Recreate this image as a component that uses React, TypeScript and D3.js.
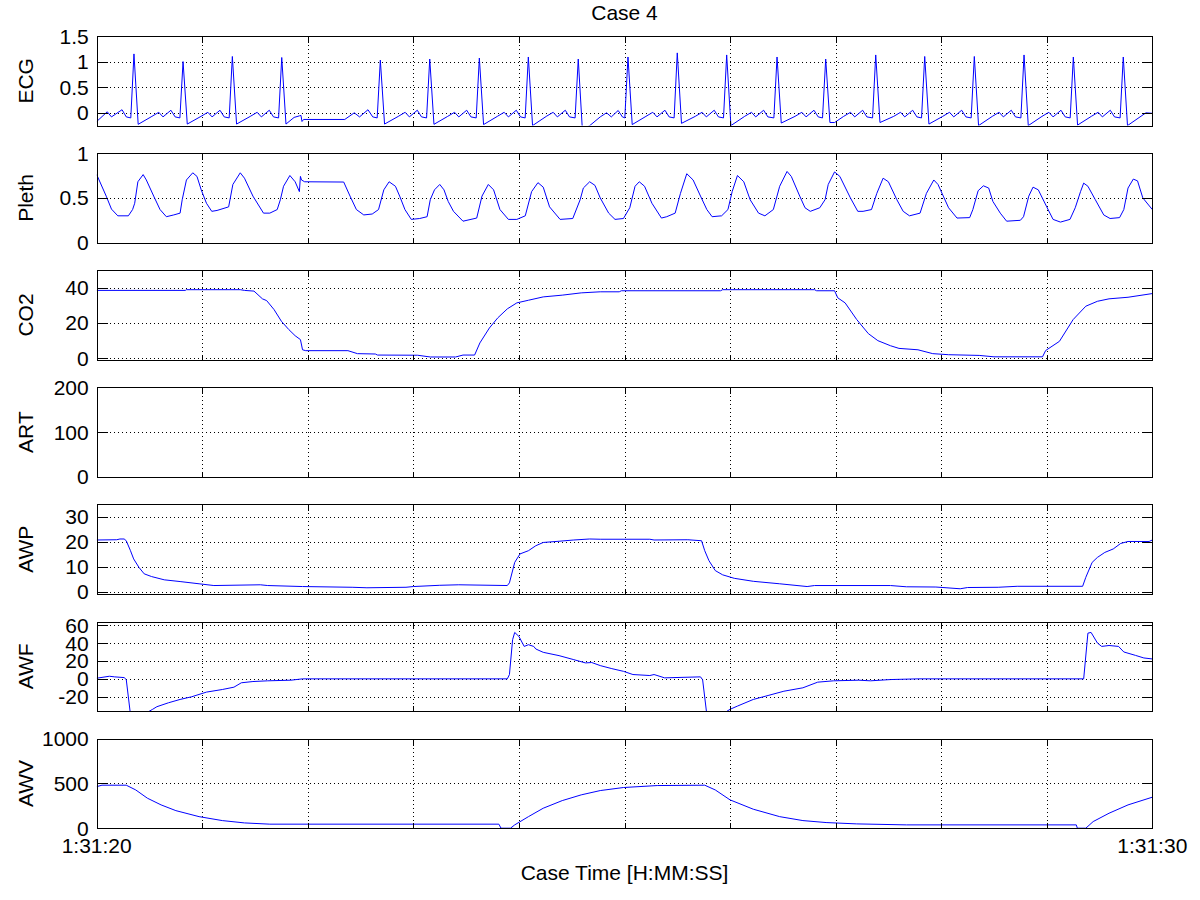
import React, { useRef, useEffect } from "react"
import * as d3 from "d3"

type Pt = [number, number]

const title = "Case 4"
const xLabel = "Case Time [H:MM:SS]"
const xDomain: [number, number] = [0, 10]
const xTickLabels = ["1:31:20", "1:31:30"]
const channelNames = ["ECG", "Pleth", "CO2", "ART", "AWP", "AWF", "AWV"]
const yDomains: [number, number][] = [
  [-0.25, 1.5],
  [0, 1],
  [-1, 50],
  [0, 200],
  [-1, 35],
  [-36, 64],
  [0, 1000],
]
const yTicks = [
  [0, 0.5, 1, 1.5],
  [0, 0.5, 1],
  [0, 20, 40],
  [0, 100, 200],
  [0, 10, 20, 30],
  [-20, 0, 20, 40, 60],
  [0, 500, 1000],
]

// seconds from 1:31:20
const ecg: Pt[] = [
  [0, -0.17], [0.1, 0.02], [0.14, -0.08], [0.24, 0.06], [0.28, -0.08], [0.323, -0.1],
  [0.353, 1.15], [0.393, -0.225], [0.523, -0.07], [0.588, 0.01], [0.628, -0.08], [0.703, 0.05], [0.743, -0.08], [0.788, -0.1],
  [0.818, 1.0], [0.858, -0.22], [0.988, -0.07], [1.053, 0.01], [1.093, -0.08], [1.168, 0.05], [1.208, -0.08], [1.255, -0.1],
  [1.285, 1.1], [1.325, -0.22], [1.455, -0.07], [1.52, 0.01], [1.56, -0.08], [1.635, 0.05], [1.675, -0.08], [1.723, -0.1],
  [1.753, 1.08], [1.793, -0.22], [1.87, -0.09], [1.92, -0.06], [1.935, -0.05], [1.945, -0.17], [1.96, -0.13], [2.35, -0.13],
  [2.44, 0.0], [2.49, -0.08], [2.57, 0.06], [2.615, -0.08], [2.657, -0.1],
  [2.687, 1.03], [2.727, -0.22], [2.857, -0.07], [2.922, 0.01], [2.962, -0.08], [3.037, 0.05], [3.077, -0.08], [3.125, -0.1],
  [3.155, 1.05], [3.195, -0.225], [3.325, -0.07], [3.39, 0.01], [3.43, -0.08], [3.505, 0.05], [3.545, -0.08], [3.595, -0.1],
  [3.625, 1.07], [3.665, -0.23], [3.795, -0.07], [3.86, 0.01], [3.9, -0.08], [3.975, 0.05], [4.015, -0.08], [4.059, -0.1],
  [4.089, 1.09], [4.129, -0.25], [4.259, -0.07], [4.324, 0.01], [4.364, -0.08], [4.439, 0.05], [4.479, -0.08], [4.532, -0.1],
  [4.562, 1.05], [4.6, -0.3], [4.665, -0.26], [4.77, -0.08], [4.83, 0.0], [4.875, -0.08], [4.94, 0.045], [4.98, -0.08], [5.003, -0.1],
  [5.033, 1.09], [5.073, -0.23], [5.203, -0.07], [5.268, 0.01], [5.308, -0.08], [5.383, 0.05], [5.423, -0.08], [5.47, -0.1],
  [5.5, 1.17], [5.54, -0.206], [5.67, -0.07], [5.735, 0.01], [5.775, -0.08], [5.85, 0.05], [5.89, -0.08], [5.938, -0.1],
  [5.968, 1.13], [6.008, -0.25], [6.138, -0.07], [6.203, 0.01], [6.243, -0.08], [6.318, 0.05], [6.358, -0.08], [6.415, -0.1],
  [6.445, 1.09], [6.485, -0.2], [6.615, -0.07], [6.68, 0.01], [6.72, -0.08], [6.795, 0.05], [6.835, -0.08], [6.876, -0.1],
  [6.906, 1.05], [6.946, -0.19], [6.99, -0.19], [7.076, -0.07], [7.141, 0.01], [7.181, -0.08], [7.256, 0.05], [7.296, -0.08], [7.35, -0.1],
  [7.38, 1.13], [7.42, -0.19], [7.55, -0.07], [7.615, 0.01], [7.655, -0.08], [7.73, 0.05], [7.77, -0.08], [7.814, -0.1],
  [7.844, 1.1], [7.884, -0.22], [8.014, -0.07], [8.079, 0.01], [8.119, -0.08], [8.194, 0.05], [8.234, -0.08], [8.284, -0.1],
  [8.314, 1.1], [8.354, -0.25], [8.484, -0.07], [8.549, 0.01], [8.589, -0.08], [8.664, 0.05], [8.704, -0.08], [8.755, -0.1],
  [8.785, 1.13], [8.825, -0.25], [8.955, -0.07], [9.02, 0.01], [9.06, -0.08], [9.135, 0.05], [9.175, -0.08], [9.222, -0.1],
  [9.252, 1.09], [9.292, -0.24], [9.422, -0.07], [9.487, 0.01], [9.527, -0.08], [9.602, 0.05], [9.642, -0.08], [9.695, -0.1],
  [9.725, 1.09], [9.765, -0.25], [9.94, 0.0], [10.0, -0.01],
]

const pleth: Pt[] = [
  [0, 0.76], [0.09, 0.52], [0.14, 0.375], [0.2, 0.3], [0.3, 0.3], [0.34, 0.37], [0.36, 0.44], [0.39, 0.68],
  [0.44, 0.76], [0.47, 0.7], [0.54, 0.52], [0.6, 0.37], [0.66, 0.29], [0.73, 0.31], [0.79, 0.33], [0.81, 0.48],
  [0.85, 0.7], [0.91, 0.78], [0.95, 0.74], [0.99, 0.59], [1.04, 0.44], [1.09, 0.35], [1.14, 0.36], [1.25, 0.4],
  [1.29, 0.65], [1.36, 0.78], [1.4, 0.72], [1.48, 0.52], [1.58, 0.33], [1.64, 0.33], [1.71, 0.37], [1.74, 0.48],
  [1.77, 0.63], [1.83, 0.75], [1.88, 0.68], [1.92, 0.57], [1.93, 0.74], [1.94, 0.7], [1.97, 0.68], [2.34, 0.677],
  [2.4, 0.52], [2.46, 0.37], [2.53, 0.31], [2.61, 0.32], [2.67, 0.37], [2.72, 0.59], [2.77, 0.68], [2.83, 0.63],
  [2.87, 0.52], [2.92, 0.37], [2.98, 0.26], [3.06, 0.27], [3.13, 0.29], [3.16, 0.48], [3.2, 0.59], [3.25, 0.65],
  [3.29, 0.59], [3.33, 0.46], [3.38, 0.35], [3.47, 0.24], [3.6, 0.275], [3.65, 0.52], [3.71, 0.65], [3.76, 0.59],
  [3.82, 0.37], [3.9, 0.26], [3.98, 0.26], [4.06, 0.3], [4.12, 0.57], [4.18, 0.67], [4.23, 0.62], [4.29, 0.4],
  [4.39, 0.26], [4.51, 0.27], [4.58, 0.48], [4.61, 0.61], [4.67, 0.68], [4.72, 0.64], [4.77, 0.5], [4.85, 0.33],
  [4.91, 0.26], [4.99, 0.27], [5.05, 0.39], [5.1, 0.63], [5.14, 0.68], [5.19, 0.63], [5.26, 0.44], [5.35, 0.275],
  [5.4, 0.29], [5.48, 0.33], [5.53, 0.55], [5.59, 0.77], [5.65, 0.7], [5.72, 0.52], [5.78, 0.37], [5.83, 0.29],
  [5.92, 0.3], [5.98, 0.37], [6.02, 0.57], [6.07, 0.75], [6.13, 0.68], [6.19, 0.48], [6.27, 0.33], [6.33, 0.3],
  [6.41, 0.37], [6.47, 0.63], [6.54, 0.795], [6.58, 0.74], [6.66, 0.52], [6.71, 0.39], [6.76, 0.35], [6.85, 0.39],
  [6.9, 0.48], [6.93, 0.65], [6.99, 0.79], [7.04, 0.74], [7.14, 0.5], [7.21, 0.35], [7.26, 0.35], [7.34, 0.37],
  [7.39, 0.55], [7.45, 0.72], [7.5, 0.68], [7.58, 0.48], [7.64, 0.35], [7.7, 0.3], [7.8, 0.33], [7.86, 0.55],
  [7.93, 0.7], [7.97, 0.65], [8.02, 0.52], [8.07, 0.39], [8.15, 0.275], [8.27, 0.28], [8.3, 0.37], [8.35, 0.58],
  [8.4, 0.635], [8.45, 0.61], [8.49, 0.46], [8.56, 0.33], [8.62, 0.24], [8.75, 0.25], [8.78, 0.29], [8.83, 0.52],
  [8.87, 0.62], [8.92, 0.59], [9.0, 0.4], [9.06, 0.26], [9.13, 0.23], [9.22, 0.26], [9.27, 0.39], [9.32, 0.57],
  [9.35, 0.665], [9.39, 0.63], [9.46, 0.48], [9.54, 0.31], [9.6, 0.27], [9.69, 0.28], [9.73, 0.37], [9.77, 0.61],
  [9.82, 0.71], [9.86, 0.69], [9.91, 0.5], [10.0, 0.37],
]

const co2: Pt[] = [
  [0, 38.5], [0.84, 38.5], [0.85, 38.9], [1.36, 38.9], [1.4, 38.5], [1.49, 38.1], [1.57, 33.7], [1.61, 32.7],
  [1.68, 27.6], [1.75, 20.9], [1.82, 16.2], [1.88, 12.7], [1.93, 10.5], [1.95, 4.7], [1.98, 4.2], [2.38, 4.2],
  [2.47, 2.5], [2.64, 2.3], [2.66, 1.7], [3.04, 1.6], [3.16, 0.6], [3.4, 0.6], [3.47, 1.7], [3.58, 1.7],
  [3.63, 8.6], [3.72, 17.1], [3.8, 22.9], [3.89, 28], [3.98, 31.4], [4.09, 32.9], [4.23, 34.8], [4.41, 35.8],
  [4.59, 37.1], [4.77, 37.7], [4.95, 37.7], [4.97, 38.3], [5.91, 38.3], [5.93, 38.9], [6.8, 38.9], [6.82, 38.3],
  [6.99, 38.3], [7.02, 34.3], [7.09, 31.4], [7.2, 21.9], [7.31, 13.9], [7.4, 9.9], [7.52, 7.0], [7.6, 5.5],
  [7.78, 4.7], [7.92, 2.5], [8.07, 1.9], [8.36, 1.5], [8.5, 0.7], [8.96, 0.7], [8.99, 4.3], [9.12, 9.5],
  [9.25, 21.9], [9.37, 29.5], [9.48, 32.3], [9.59, 33.7], [9.77, 34.6], [10.0, 36.7],
]

const art: Pt[] = []

const awp: Pt[] = [
  [0, 20.7], [0.19, 20.8], [0.22, 21.1], [0.26, 21.1], [0.28, 20.4], [0.32, 16.4], [0.35, 13.1], [0.4, 9.7],
  [0.45, 7.1], [0.52, 6.0], [0.64, 4.7], [0.79, 4.0], [0.97, 3.1], [1.11, 2.4], [1.55, 2.7], [1.62, 2.4],
  [1.95, 2.0], [2.42, 1.7], [2.56, 1.5], [2.93, 1.7], [3.0, 2.0], [3.25, 2.5], [3.43, 2.7], [3.89, 2.4],
  [3.91, 3.5], [3.96, 11.7], [4.01, 15.1], [4.09, 16.4], [4.16, 18.4], [4.23, 19.7], [4.38, 20.2], [4.52, 20.7],
  [4.67, 21.1], [4.77, 21.0], [5.24, 21.0], [5.28, 20.7], [5.6, 20.8], [5.73, 20.4], [5.76, 16.4], [5.8, 12.4],
  [5.86, 8.4], [5.93, 6.7], [6.04, 5.3], [6.22, 4.1], [6.47, 3.1], [6.73, 2.0], [6.8, 2.4], [7.52, 2.4],
  [7.67, 1.9], [7.95, 1.8], [8.18, 1.1], [8.25, 1.6], [8.54, 1.7], [8.72, 2.1], [9.34, 2.1], [9.37, 5.7],
  [9.43, 11.7], [9.48, 13.7], [9.55, 15.7], [9.63, 17.1], [9.7, 19.3], [9.77, 20.1], [9.97, 20.1], [10.0, 20.7],
]

const awf: Pt[] = [
  [0, 0.7], [0.12, 2.9], [0.17, 2.2], [0.26, 1.4], [0.28, -0.8], [0.32, -40], [0.41, -42], [0.53, -34],
  [0.57, -31.1], [0.68, -26.7], [0.79, -23], [0.9, -20], [1.04, -14.8], [1.19, -11.9], [1.3, -9.3], [1.37, -4.4],
  [1.48, -3.0], [1.62, -2.2], [1.84, -1.5], [1.95, 0], [3.89, 0], [3.91, 4.8], [3.94, 43.7], [3.96, 51.8],
  [4.0, 47.3], [4.05, 36.2], [4.09, 38.1], [4.14, 36.2], [4.16, 33.3], [4.23, 29.6], [4.38, 25.9], [4.52, 21.4],
  [4.63, 17.8], [4.69, 18.2], [4.77, 14.8], [4.88, 11.4], [4.99, 8.4], [5.08, 4.8], [5.24, 3.7], [5.28, 4.8],
  [5.38, 1.1], [5.72, 2.2], [5.74, -1], [5.78, -40], [5.89, -42], [6.0, -34], [6.07, -30.4], [6.22, -23],
  [6.36, -18.6], [6.51, -13.8], [6.69, -10], [6.83, -3.7], [6.98, -2.2], [7.22, -1.5], [7.33, -2.2], [7.52, -0.8],
  [7.78, 0], [9.35, 0], [9.39, 51], [9.42, 51.8], [9.48, 40], [9.52, 36.2], [9.59, 37.2], [9.68, 36.2],
  [9.73, 30], [9.84, 26.2], [9.92, 23.3], [10.0, 22.2],
]

const awv: Pt[] = [
  [0, 464], [0.05, 480], [0.28, 480], [0.37, 427], [0.48, 335], [0.61, 260], [0.75, 196], [0.97, 129],
  [1.19, 85], [1.4, 59], [1.64, 45], [3.81, 45], [3.83, 0], [3.92, 0], [3.96, 37], [4.09, 129],
  [4.23, 223], [4.41, 308], [4.59, 372], [4.77, 420], [4.99, 454], [5.31, 476], [5.76, 480], [5.86, 427],
  [6.0, 316], [6.22, 212], [6.47, 129], [6.69, 85], [6.91, 63], [7.2, 48], [7.67, 37], [9.28, 37],
  [9.29, 0], [9.37, 0], [9.44, 74], [9.59, 167], [9.77, 260], [10.0, 346],
]

const channels = [ecg, pleth, co2, art, awp, awf, awv]

export default function App() {
  const svgRef = useRef<SVGSVGElement>(null)

  useEffect(() => {
    if (!svgRef.current) return
    const svg = d3.select(svgRef.current)
    svg.selectAll("*").remove()

    const width = 1200
    const height = 900
    const left = 96.7
    const right = 1152.3
    const top0 = 36
    const step = 117.1
    const ph = 89.6
    const font = "'Liberation Sans', Arial, sans-serif"
    const fs = 21
    const snap = (v: number) => Math.round(v) + 0.5

    svg.append("rect").attr("width", width).attr("height", height).attr("fill", "#fff")

    const x = d3.scaleLinear().domain(xDomain).range([left, right])
    const secs = d3.range(xDomain[0], xDomain[1] + 1, 1)

    channels.forEach((data, i) => {
      const y0 = top0 + i * step
      const y = d3.scaleLinear().domain(yDomains[i]).range([y0 + ph, y0])
      const g = svg.append("g")
      const bx0 = snap(left)
      const bx1 = snap(right)
      const by0 = snap(y0)
      const by1 = snap(y0 + ph)

      // dotted grid
      const grid = g.append("g")
        .attr("stroke", "#000")
        .attr("stroke-width", 1)
        .attr("stroke-dasharray", "1,3")
        .attr("shape-rendering", "crispEdges")
      secs.slice(1, -1).forEach((s) => {
        grid.append("line")
          .attr("x1", snap(x(s))).attr("x2", snap(x(s)))
          .attr("y1", by0).attr("y2", by1)
      })
      yTicks[i].forEach((v) => {
        grid.append("line")
          .attr("x1", bx0).attr("x2", bx1)
          .attr("y1", snap(y(v))).attr("y2", snap(y(v)))
      })

      // data
      const clipId = `clip-${i}`
      g.append("clipPath").attr("id", clipId)
        .append("rect")
        .attr("x", left).attr("y", y0)
        .attr("width", right - left).attr("height", ph)
      if (data.length) {
        const line = d3.line<Pt>().x((d) => x(d[0])).y((d) => y(d[1]))
        g.append("path")
          .datum(data)
          .attr("clip-path", `url(#${clipId})`)
          .attr("fill", "none")
          .attr("stroke", "#0000ff")
          .attr("stroke-width", 1)
          .attr("d", line)
      }

      // box and ticks
      const ax = g.append("g")
        .attr("stroke", "#000")
        .attr("stroke-width", 1)
        .attr("shape-rendering", "crispEdges")
      ax.append("rect")
        .attr("x", bx0).attr("y", by0)
        .attr("width", bx1 - bx0).attr("height", by1 - by0)
        .attr("fill", "none")
      secs.forEach((s) => {
        const sx = snap(x(s))
        ax.append("line").attr("x1", sx).attr("x2", sx).attr("y1", by1).attr("y2", by1 - 6)
        ax.append("line").attr("x1", sx).attr("x2", sx).attr("y1", by0).attr("y2", by0 + 6)
      })
      yTicks[i].forEach((v) => {
        const sy = snap(y(v))
        ax.append("line").attr("x1", bx0).attr("x2", bx0 + 10.5).attr("y1", sy).attr("y2", sy)
        ax.append("line").attr("x1", bx1).attr("x2", bx1 - 10.5).attr("y1", sy).attr("y2", sy)
      })

      // tick labels
      yTicks[i].forEach((v) => {
        g.append("text")
          .attr("x", left - 8)
          .attr("y", y(v))
          .attr("dy", "0.36em")
          .attr("text-anchor", "end")
          .attr("font-family", font)
          .attr("font-size", fs)
          .text(String(v))
      })

      // channel label
      g.append("text")
        .attr("transform", `translate(33,${y0 + ph / 2}) rotate(-90)`)
        .attr("text-anchor", "middle")
        .attr("font-family", font)
        .attr("font-size", fs)
        .text(channelNames[i])
    })

    const bottom = top0 + 6 * step + ph
    xTickLabels.forEach((lab, k) => {
      svg.append("text")
        .attr("x", x(xDomain[k]))
        .attr("y", bottom + 25)
        .attr("text-anchor", "middle")
        .attr("font-family", font)
        .attr("font-size", fs)
        .text(lab)
    })

    svg.append("text")
      .attr("x", (left + right) / 2)
      .attr("y", bottom + 52)
      .attr("text-anchor", "middle")
      .attr("font-family", font)
      .attr("font-size", fs)
      .text(xLabel)

    svg.append("text")
      .attr("x", (left + right) / 2)
      .attr("y", 20)
      .attr("text-anchor", "middle")
      .attr("font-family", font)
      .attr("font-size", fs)
      .text(title)
  }, [])

  return (
    <div style={{ position: "absolute", left: 0, top: 0 }}>
      <svg ref={svgRef} width={1200} height={900}></svg>
    </div>
  )
}
